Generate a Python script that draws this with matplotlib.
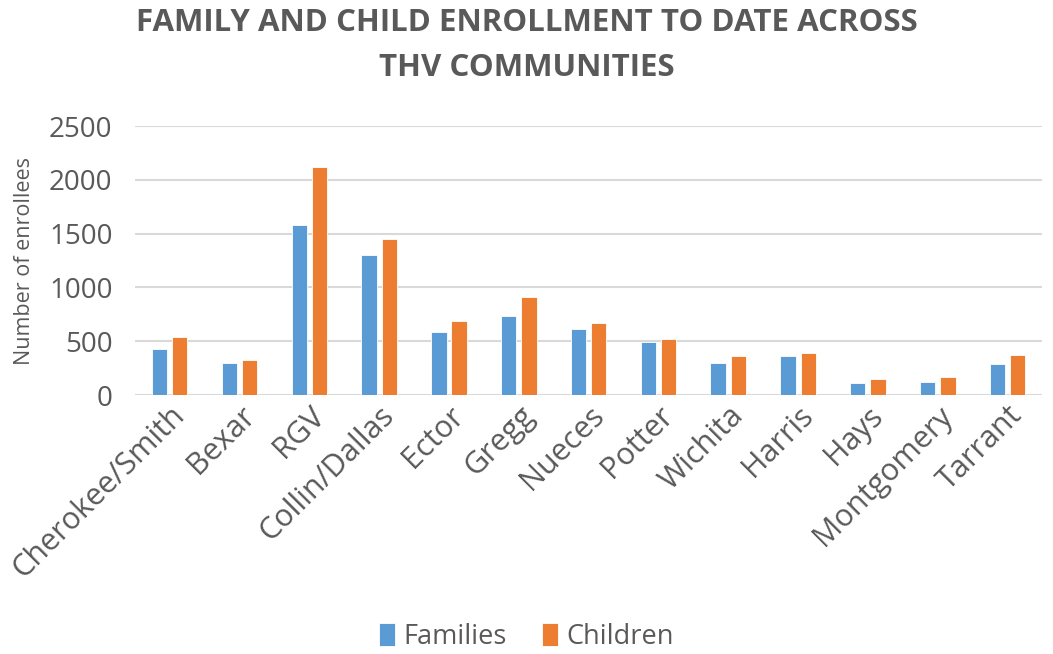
import numpy as np
import matplotlib.pyplot as plt

plt.rcParams['font.family'] = ['Open Sans', 'DejaVu Sans']

# data
communities = ['Cherokee/Smith', 'Bexar', 'RGV', 'Collin/Dallas', 'Ector', 'Gregg',
               'Nueces', 'Potter', 'Wichita', 'Harris', 'Hays', 'Montgomery', 'Tarrant']
families = [428, 301, 1581, 1305, 586, 732, 611, 496, 295, 360, 112, 124, 288]
children = [543, 329, 2124, 1448, 691, 911, 670, 518, 363, 388, 152, 167, 372]

blue = '#5b9bd5'
orange = '#ed7d31'
grey = '#595959'

fig = plt.figure(figsize=(10.53, 6.54), dpi=100)
ax = fig.add_axes([0.128, 0.396, 0.862, 0.411])

x = np.arange(len(communities))
w = 0.22
ax.bar(x - 0.145, families, w, color=blue, edgecolor='white', linewidth=0.6, label='Families', zorder=3)
ax.bar(x + 0.145, children, w, color=orange, edgecolor='white', linewidth=0.6, label='Children', zorder=3)

ax.set_xlim(-0.5, len(communities) - 0.5)
ax.set_ylim(0, 2500)
ax.set_yticks(range(0, 2501, 500))
ax.grid(axis='y', color='#d9d9d9', linewidth=1.5, zorder=0)
for s in ax.spines.values():
    s.set_visible(False)
ax.tick_params(length=0, colors=grey, labelsize=20)
ax.tick_params(axis='y', pad=16)
ax.tick_params(axis='x', labelsize=22, pad=4)
ax.set_xticks(x)
ax.set_xticklabels(communities, rotation=45, ha='right', rotation_mode='anchor')
ax.set_ylabel('Number of enrollees', fontsize=15.5, color=grey, labelpad=10)

fig.text(0.5, 0.931, 'FAMILY AND CHILD ENROLLMENT TO DATE ACROSS\nTHV COMMUNITIES',
         ha='center', va='center', fontsize=22.5, fontweight='bold', color=grey, linespacing=1.65)

fig.legend(loc='center', bbox_to_anchor=(0.5, 0.026), ncol=2, frameon=False,
           fontsize=19.5, labelcolor=grey, handlelength=0.6, handleheight=0.9,
           columnspacing=1.3, handletextpad=0.3)

fig.savefig('out.png', dpi=100)
